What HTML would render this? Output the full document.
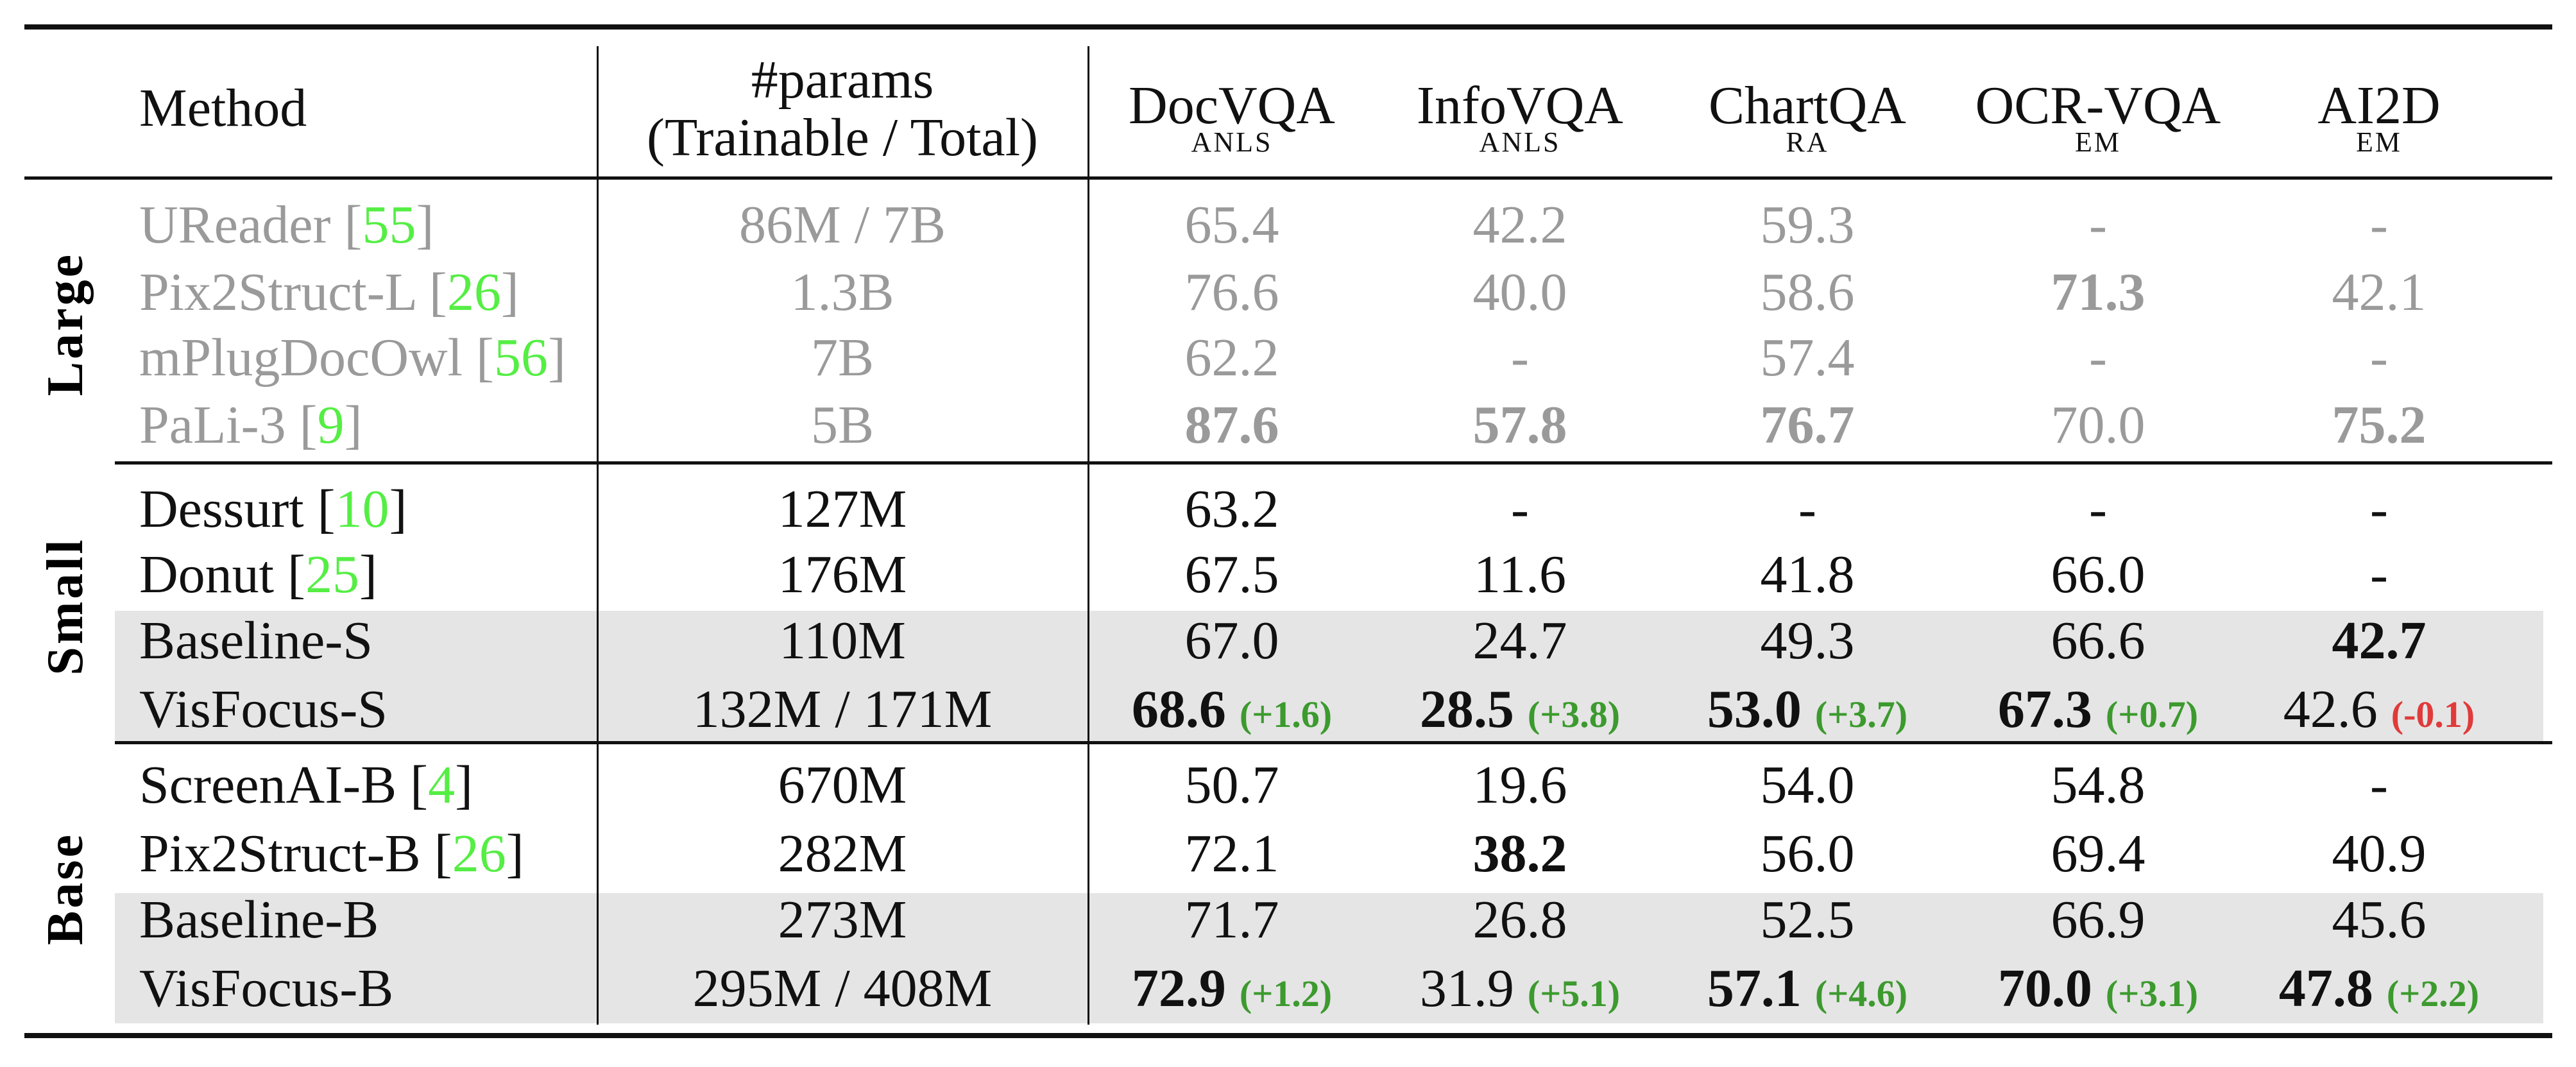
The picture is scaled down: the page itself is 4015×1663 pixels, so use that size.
<!DOCTYPE html>
<html><head><meta charset="utf-8">
<style>
body{margin:0;width:4015px;height:1663px;background:#fff;position:relative;overflow:hidden;font-family:"Liberation Serif","Times New Roman",Times,"DejaVu Serif",serif;}
.r{position:absolute;background:#111;}
.t{position:absolute;font-size:84px;line-height:1;white-space:nowrap;transform:translate(-50%,-50%);color:#111;font-family:"Liberation Serif","Times New Roman",Times,"DejaVu Serif",serif;}
.l{position:absolute;font-size:84px;line-height:1;white-space:nowrap;transform:translateY(-50%);color:#111;font-family:"Liberation Serif","Times New Roman",Times,"DejaVu Serif",serif;}
.g{color:#9a9a9a;}
.c{color:#55ee44;}
.d{font-size:58px;color:#3c9a2e;font-weight:bold;}
.n{font-size:58px;color:#e03a3a;font-weight:bold;}
.sc{font-size:44px;letter-spacing:3px;}
.grp{position:absolute;font-size:80px;font-weight:bold;line-height:1;transform:translate(-50%,-50%) rotate(-90deg);white-space:nowrap;letter-spacing:4px;font-family:"Liberation Serif","Times New Roman",Times,"DejaVu Serif",serif;}
.band{position:absolute;background:#e5e5e5;}
</style></head><body>
<div class="band" style="left:179px;top:952px;width:3785px;height:204px"></div>
<div class="band" style="left:179px;top:1392px;width:3785px;height:203px"></div>
<div class="r" style="left:38px;top:38px;width:3940px;height:8px"></div>
<div class="r" style="left:38px;top:275px;width:3940px;height:5px"></div>
<div class="r" style="left:179px;top:719px;width:3799px;height:5px"></div>
<div class="r" style="left:179px;top:1155px;width:3799px;height:5px"></div>
<div class="r" style="left:38px;top:1610px;width:3940px;height:8px"></div>
<div class="r" style="left:930px;top:72px;width:3px;height:1525px"></div>
<div class="r" style="left:1695px;top:72px;width:3px;height:1525px"></div>

<div class="l" style="left:217px;top:169px">Method</div>
<div class="t" style="left:1313px;top:125px">#params</div>
<div class="t" style="left:1313px;top:215px">(Trainable / Total)</div>
<div class="t" style="left:1920px;top:165px">DocVQA</div>
<div class="t sc" style="left:1920px;top:222px">ANLS</div>
<div class="t" style="left:2369px;top:165px">InfoVQA</div>
<div class="t sc" style="left:2369px;top:222px">ANLS</div>
<div class="t" style="left:2817px;top:165px">ChartQA</div>
<div class="t sc" style="left:2817px;top:222px">RA</div>
<div class="t" style="left:3270px;top:165px">OCR-VQA</div>
<div class="t sc" style="left:3270px;top:222px">EM</div>
<div class="t" style="left:3708px;top:165px">AI2D</div>
<div class="t sc" style="left:3708px;top:222px">EM</div>

<div class="grp" style="left:102px;top:505px">Large</div>
<div class="grp" style="left:102px;top:945px">Small</div>
<div class="grp" style="left:102px;top:1385px">Base</div>

<div id="rows"></div>
<script>
const ys=[351,456,558,663,794,896,999,1106,1224,1331,1434,1541];
const methods=[["UReader","55"],["Pix2Struct-L","26"],["mPlugDocOwl","56"],["PaLi-3","9"],["Dessurt","10"],["Donut","25"],["Baseline-S",""],["VisFocus-S",""],["ScreenAI-B","4"],["Pix2Struct-B","26"],["Baseline-B",""],["VisFocus-B",""]];
const params=["86M / 7B","1.3B","7B","5B","127M","176M","110M","132M / 171M","670M","282M","273M","295M / 408M"];
const cols=[1920,2369,2817,3270,3708];
// cells: [value, bold, delta]
const vals=[
[["65.4"],["42.2"],["59.3"],["-"],["-"]],
[["76.6"],["40.0"],["58.6"],["71.3",1],["42.1"]],
[["62.2"],["-"],["57.4"],["-"],["-"]],
[["87.6",1],["57.8",1],["76.7",1],["70.0"],["75.2",1]],
[["63.2"],["-"],["-"],["-"],["-"]],
[["67.5"],["11.6"],["41.8"],["66.0"],["-"]],
[["67.0"],["24.7"],["49.3"],["66.6"],["42.7",1]],
[["68.6",1,"+1.6"],["28.5",1,"+3.8"],["53.0",1,"+3.7"],["67.3",1,"+0.7"],["42.6",0,"-0.1"]],
[["50.7"],["19.6"],["54.0"],["54.8"],["-"]],
[["72.1"],["38.2",1],["56.0"],["69.4"],["40.9"]],
[["71.7"],["26.8"],["52.5"],["66.9"],["45.6"]],
[["72.9",1,"+1.2"],["31.9",0,"+5.1"],["57.1",1,"+4.6"],["70.0",1,"+3.1"],["47.8",1,"+2.2"]]
];
const root=document.getElementById('rows');
for(let i=0;i<12;i++){
  const gray=i<4?' g':'';
  const m=document.createElement('div');
  m.className='l'+gray;
  
  
  m.style.left='217px';m.style.top=ys[i]+'px';
  m.innerHTML=methods[i][0]+(methods[i][1]?' [<span class="c">'+methods[i][1]+'</span>]':'');
  root.appendChild(m);
  const p=document.createElement('div');
  p.className='t'+gray;
  
  
  p.style.left='1313px';p.style.top=ys[i]+'px';
  p.textContent=params[i];
  root.appendChild(p);
  for(let j=0;j<5;j++){
    const v=vals[i][j];
    const c=document.createElement('div');
    c.className='t'+gray;
    
    
    c.style.left=cols[j]+'px';c.style.top=ys[i]+'px';
    let h=v[1]?'<b>'+v[0]+'</b>':v[0];
    if(v[2]) h+=' <span class="'+(v[2][0]=='-'?'n':'d')+'">('+v[2]+')</span>';
    c.innerHTML=h;
    root.appendChild(c);
  }
}
</script>
</body></html>
